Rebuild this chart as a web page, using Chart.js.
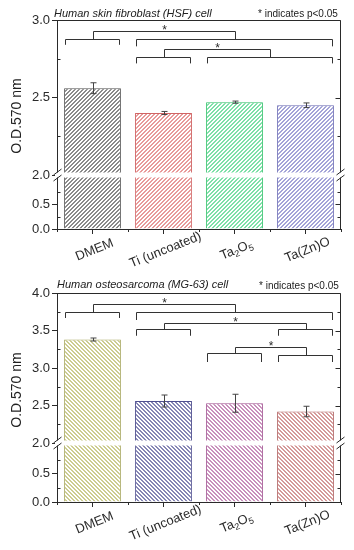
<!DOCTYPE html>
<html>
<head>
<meta charset="utf-8">
<script src="https://cdn.jsdelivr.net/npm/chart.js@4.4.1/dist/chart.umd.min.js"></script>
<style>
  body { margin: 0; background: #fff; }
  #wrap { position: relative; width: 354px; height: 550px; font-family: "Liberation Sans", Arial, sans-serif; color: #222; }
  canvas { position: absolute; left: 0; }
  .ttl { position: absolute; font-style: italic; font-size: 11px; white-space: nowrap; }
  .note { position: absolute; font-size: 10px; white-space: nowrap; }
  .ylab { position: absolute; font-size: 14px; white-space: nowrap; transform: translate(-50%, -50%) rotate(-90deg); }
</style>
</head>
<body>
<div id="wrap">
  <canvas id="hsf" width="354" height="275" style="top:0"></canvas>
  <canvas id="mg63" width="354" height="275" style="top:275px"></canvas>
  <div class="ttl" style="left:54px;top:7px">Human skin fibroblast (HSF) cell</div>
  <div class="note" style="left:258px;top:8px">* indicates p&lt;0.05</div>
  <div class="ylab" style="left:16px;top:116px">O.D.570 nm</div>
  <div class="ttl" style="left:57px;top:278px">Human osteosarcoma (MG-63) cell</div>
  <div class="note" style="left:259px;top:280px">* indicates p&lt;0.05</div>
  <div class="ylab" style="left:16px;top:390px">O.D.570 nm</div>
</div>
<script>
const categories = ['DMEM', 'Ti (uncoated)', 'Ta₂O₅', 'Ta(Zn)O'];

// HSF cell
const hsfMeans = [2.56, 2.40, 2.47, 2.45];
const hsfErrors = [0.035, 0.01, 0.007, 0.015];
const hsfUpperTicks = [2.0, 2.5, 3.0];
const hsfLowerTicks = [0.0, 0.5];
// [first bar, last bar, arm level, leg end] for each side, then the joining level
const hsfBrackets = [
  { left: [0, 0, 2.877, 2.84], right: [1, 3, 2.877, 2.83], top: 2.93 },
  { left: [1, 1, 2.76, 2.72], right: [2, 3, 2.76, 2.72], top: 2.81 }
];

// MG-63 cell
const mg63Means = [3.38, 2.56, 2.53, 2.42];
const mg63Errors = [0.02, 0.08, 0.12, 0.07];
const mg63UpperTicks = [2.0, 2.5, 3.0, 3.5, 4.0];
const mg63LowerTicks = [0.0, 0.5];
const mg63Brackets = [
  { left: [0, 0, 3.75, 3.667], right: [1, 3, 3.74, 3.64], top: 3.85 },
  { left: [1, 1, 3.52, 3.43], right: [3, 3, 3.52, 3.43], top: 3.60 },
  { left: [2, 2, 3.20, 3.08], right: [3, 3, 3.17, 3.08], top: 3.28 }
];

const INK = '#2a2a2a';

// 4x4 tile, crisp diagonal stripes two pixels wide
function hatch(color, dir) {
  const c = document.createElement('canvas');
  c.width = 4; c.height = 4;
  const g = c.getContext('2d');
  g.fillStyle = '#fff';
  g.fillRect(0, 0, 4, 4);
  g.fillStyle = color;
  for (let r = 0; r < 4; r++) {
    const col = dir > 0 ? 3 - r : r;
    g.fillRect(col, r, 1, 1);
    g.fillRect((col + 1) % 4, r, 1, 1);
  }
  return g.createPattern(c, 'repeat');
}

function drawLabel(ctx, text, cx, cy, angle) {
  const runs = [];
  for (const ch of text) {
    const code = ch.charCodeAt(0);
    const sub = code >= 0x2080 && code <= 0x2089;
    const c = sub ? String.fromCharCode(48 + code - 0x2080) : ch;
    const last = runs[runs.length - 1];
    if (last && last.sub === sub) last.t += c; else runs.push({ t: c, sub });
  }
  const big = '13px "Liberation Sans", Arial, sans-serif';
  const small = '9px "Liberation Sans", Arial, sans-serif';
  let total = 0;
  runs.forEach(r => { ctx.font = r.sub ? small : big; r.w = ctx.measureText(r.t).width; total += r.w; });
  ctx.save();
  ctx.translate(cx, cy);
  ctx.rotate(angle);
  ctx.fillStyle = INK;
  ctx.textBaseline = 'middle';
  ctx.textAlign = 'left';
  let x = -total / 2;
  runs.forEach(r => {
    ctx.font = r.sub ? small : big;
    ctx.fillText(r.t, x, r.sub ? 4 : 0);
    x += r.w;
  });
  ctx.restore();
}

const panelPlugin = {
  id: 'panel',
  afterDatasetsDraw(chart) {
    const o = chart.options.plugins.panel;
    const ctx = chart.ctx;
    const area = chart.chartArea;
    const up = chart.scales.yUp, low = chart.scales.yLow, xs = chart.scales.x;
    const bars = chart.getDatasetMeta(0).data;
    ctx.save();
    ctx.strokeStyle = '#444';
    ctx.lineWidth = 1;
    // error bars
    bars.forEach((b, i) => {
      const x = Math.round(b.x) + 0.5;
      const y1 = up.getPixelForValue(o.means[i] + o.errors[i]);
      const y2 = up.getPixelForValue(o.means[i] - o.errors[i]);
      ctx.beginPath();
      ctx.moveTo(x, y1); ctx.lineTo(x, y2);
      ctx.moveTo(x - 3, y1); ctx.lineTo(x + 3, y1);
      ctx.moveTo(x - 3, y2); ctx.lineTo(x + 3, y2);
      ctx.stroke();
    });
    // frame
    ctx.strokeStyle = INK;
    const L = area.left + 0.5, R = Math.round(area.right) - 0.5, T = area.top + 0.5, B = area.bottom;
    ctx.beginPath();
    ctx.moveTo(L, T); ctx.lineTo(R, T);
    ctx.moveTo(R, T); ctx.lineTo(R, B);
    ctx.stroke();
    // right ticks (inward) and minor ticks
    const tickSets = [[up, o.upperTicks], [low, o.lowerTicks]];
    tickSets.forEach(([s, ticks]) => {
      ticks.forEach((v, k) => {
        const y = Math.round(s.getPixelForValue(v)) + 0.5;
        ctx.beginPath(); ctx.moveTo(R, y); ctx.lineTo(R - 5, y); ctx.stroke();
        if (k < ticks.length - 1 || s === low) {
          const mv = v + (ticks[1] - ticks[0]) / 2;
          if (mv <= s.max) {
            const my = Math.round(s.getPixelForValue(mv)) + 0.5;
            ctx.beginPath();
            ctx.moveTo(R, my); ctx.lineTo(R - 3, my);
            ctx.moveTo(L, my); ctx.lineTo(L + 3, my);
            ctx.stroke();
          }
        }
      });
    });
    // minor x ticks between categories
    for (let i = 0; i <= categories.length; i++) {
      const x = Math.round(xs.getPixelForValue(i - 0.5)) + 0.5;
      ctx.beginPath(); ctx.moveTo(x, B); ctx.lineTo(x, B + 3); ctx.stroke();
    }
    // axis break
    const yb = up.bottom;
    ctx.fillStyle = '#fff';
    ctx.fillRect(area.left - 2, yb - 2.5, area.right - area.left + 4, 5);
    [L, R].forEach(x => {
      [yb - 3, yb + 3].forEach(y => {
        ctx.beginPath(); ctx.moveTo(x - 4, y + 3); ctx.lineTo(x + 4, y - 3); ctx.stroke();
      });
    });
    ctx.restore();
  },
  afterDraw(chart) {
    const o = chart.options.plugins.panel;
    const ctx = chart.ctx;
    const area = chart.chartArea;
    const up = chart.scales.yUp, xs = chart.scales.x;
    const bars = chart.getDatasetMeta(0).data;
    ctx.save();
    ctx.strokeStyle = '#333';
    ctx.lineWidth = 1;
    const side = s => {
      const x0 = Math.round(bars[s[0]].x - bars[s[0]].width / 2) + 1.5;
      const x1 = Math.round(bars[s[1]].x + bars[s[1]].width / 2) - 1.5;
      const ya = Math.round(up.getPixelForValue(s[2])) + 0.5;
      const yl = up.getPixelForValue(s[3]);
      ctx.beginPath();
      ctx.moveTo(x0, yl); ctx.lineTo(x0, ya); ctx.lineTo(x1, ya); ctx.lineTo(x1, yl);
      ctx.stroke();
      return { mid: Math.round((x0 + x1) / 2) + 0.5, ya };
    };
    o.brackets.forEach(br => {
      const a = side(br.left), b = side(br.right);
      const yt = Math.round(up.getPixelForValue(br.top)) + 0.5;
      ctx.beginPath();
      ctx.moveTo(a.mid, a.ya); ctx.lineTo(a.mid, yt); ctx.lineTo(b.mid, yt); ctx.lineTo(b.mid, b.ya);
      ctx.stroke();
      ctx.fillStyle = INK;
      ctx.font = '12px "Liberation Sans", Arial, sans-serif';
      ctx.textAlign = 'center';
      ctx.textBaseline = 'alphabetic';
      ctx.fillText('*', (a.mid + b.mid) / 2, yt + 2);
    });
    ctx.restore();
    // category labels
    categories.forEach((c, i) => {
      drawLabel(chart.ctx, c, xs.getPixelForValue(i) + 2, area.bottom + 21, -22 * Math.PI / 180);
    });
  }
};

function makePanel(id, means, errors, upperTicks, lowerTicks, brackets, lineColors, edgeColors, dir, padTop, xHeight, upW, lowW, lowMax) {
  const fills = lineColors.map(c => hatch(c, dir));
  const tickFont = { family: '"Liberation Sans", Arial, sans-serif', size: 13 };
  const yCommon = {
    type: 'linear',
    position: 'left',
    stack: 'y',
    grid: { drawOnChartArea: false, tickLength: 5, color: INK },
    border: { color: INK },
    ticks: { stepSize: 0.5, font: tickFont, color: INK, padding: 2, callback: v => Number(v).toFixed(1) },
    afterFit(s) { s.width = 57; }
  };
  const barDefaults = {
    grouped: false,
    backgroundColor: fills,
    borderColor: edgeColors,
    borderWidth: 1,
    barPercentage: 0.8,
    categoryPercentage: 1.0
  };
  return new Chart(document.getElementById(id), {
    type: 'bar',
    data: {
      labels: categories,
      datasets: [
        Object.assign({ data: means, yAxisID: 'yUp' }, barDefaults),
        Object.assign({ data: means.map(v => Math.min(v, lowMax)), yAxisID: 'yLow' }, barDefaults)
      ]
    },
    options: {
      responsive: false,
      animation: false,
      layout: { padding: { left: 0, right: 13, top: padTop, bottom: 0 } },
      plugins: {
        legend: { display: false },
        tooltip: { enabled: false },
        panel: { means, errors, upperTicks, lowerTicks, brackets }
      },
      scales: {
        x: {
          offset: true,
          grid: { offset: false, drawOnChartArea: false, tickLength: 5, color: INK },
          border: { color: INK },
          ticks: { display: false },
          afterFit(s) { s.height = xHeight; }
        },
        yLow: Object.assign({}, yCommon, {
          weight: 1,
          stackWeight: lowW,
          min: 0,
          max: lowMax,
          afterBuildTicks(s) { s.ticks = lowerTicks.map(v => ({ value: v })); }
        }),
        yUp: Object.assign({}, yCommon, {
          weight: 2,
          stackWeight: upW,
          min: upperTicks[0],
          max: upperTicks[upperTicks.length - 1],
          afterBuildTicks(s) { s.ticks = upperTicks.map(v => ({ value: v })); }
        })
      }
    },
    plugins: [panelPlugin]
  });
}

makePanel('hsf', hsfMeans, hsfErrors, hsfUpperTicks, hsfLowerTicks, hsfBrackets,
  ['#8a8a8a', '#e89a9a', '#7ee0a8', '#a4a4d8'],
  ['#555555', '#d06464', '#30c068', '#6a6ab4'], 1, 20, 46, 155, 54, 1.08);
makePanel('mg63', mg63Means, mg63Errors, mg63UpperTicks, mg63LowerTicks, mg63Brackets,
  ['#cccc90', '#8686b4', '#c890bc', '#d49a9a'],
  ['#a8a860', '#505090', '#a05090', '#b06060'], -1, 18, 48, 150, 59, 1.05);
</script>
</body>
</html>
